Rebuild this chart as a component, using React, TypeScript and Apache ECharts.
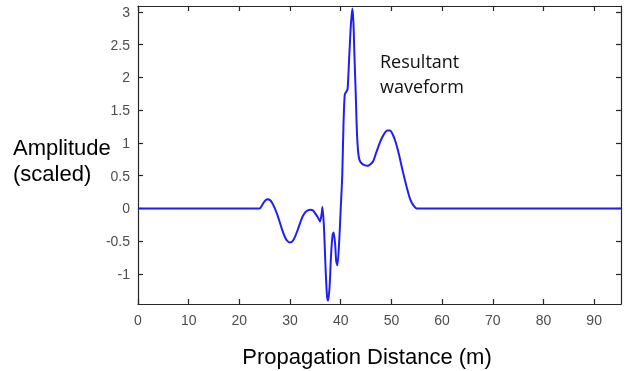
import React, { useEffect, useRef } from "react";
import * as echarts from "echarts";

const distance = [
  0, 24, 24.5, 25, 25.5, 26, 26.5, 27, 27.5, 28, 28.5, 29, 29.5, 30, 30.5, 31, 31.5, 32, 32.5, 33,
  33.5, 34, 34.5, 35, 35.5, 35.9, 36.2, 36.4, 36.7, 37, 37.3, 37.5, 37.8, 38.1, 38.4, 38.6, 38.9, 39.1,
  39.35, 39.7, 40.0, 40.3, 40.55, 40.8, 41.1, 41.35, 41.7, 42.0, 42.3, 42.5, 42.7, 43.0, 43.2, 43.45,
  43.7, 44.1, 44.7, 45.3, 45.8, 46.4, 47.0, 47.8, 48.5, 49.2, 49.7, 50.2, 50.8, 51.5, 52.2, 53.0, 53.7,
  54.3, 55.0, 96,
];
const amplitude = [
  0, 0, 0.05, 0.11, 0.14, 0.13, 0.08, 0.0, -0.1, -0.22, -0.34, -0.44, -0.5, -0.52, -0.5, -0.43,
  -0.33, -0.22, -0.12, -0.06, -0.03, -0.02, -0.03, -0.08, -0.14, -0.2, -0.1, 0.02, -0.3, -0.9, -1.35,
  -1.41, -1.2, -0.7, -0.4, -0.37, -0.55, -0.8, -0.87, -0.5, 0.0, 0.5, 1.3, 1.74, 1.78, 1.82, 2.35,
  2.8, 3.05, 2.85, 2.35, 1.65, 1.15, 0.85, 0.74, 0.69, 0.66, 0.65, 0.67, 0.72, 0.85, 1.02, 1.13, 1.19, 1.19,
  1.14, 1.02, 0.82, 0.58, 0.33, 0.14, 0.05, 0.0, 0,
];
const xTicks = [0, 10, 20, 30, 40, 50, 60, 70, 80, 90];
const yTicks = [-1, -0.5, 0, 0.5, 1, 1.5, 2, 2.5, 3];

const AXIS = "#262626";
const LABEL = "#4d4d4d";

export default function App() {
  const ref = useRef<HTMLDivElement>(null);
  useEffect(() => {
    const chart = echarts.init(ref.current!, undefined, { renderer: "svg" });
    const points = distance.map((d, i) => [d, amplitude[i]]);
    const axisLine = { show: true, onZero: false, lineStyle: { color: AXIS, width: 1.2 } };
    const tickIn = (vals: number[]) => ({
      show: true,
      inside: true,
      length: 5,
      customValues: vals,
      lineStyle: { color: AXIS, width: 1.2 },
    });
    const xMin = 0, xMax = 95.3, yMin = -1.46, yMax = 3.09;
    chart.setOption({
      animation: false,
      grid: { left: 138, right: 4, top: 6, bottom: 67 },
      xAxis: [
        {
          type: "value",
          min: xMin,
          max: xMax,
          axisLine,
          axisTick: tickIn(xTicks),
          splitLine: { show: false },
          axisLabel: {
            customValues: xTicks,
            color: LABEL,
            fontSize: 14,
            fontFamily: "Liberation Sans, Arial, sans-serif",
            margin: 9,
          },
        },
        {
          type: "value",
          position: "top",
          min: xMin,
          max: xMax,
          axisLine,
          axisTick: tickIn(xTicks),
          splitLine: { show: false },
          axisLabel: { show: false },
        },
      ],
      yAxis: [
        {
          type: "value",
          min: yMin,
          max: yMax,
          axisLine,
          axisTick: tickIn(yTicks),
          splitLine: { show: false },
          axisLabel: {
            customValues: yTicks,
            color: LABEL,
            fontSize: 14,
            fontFamily: "Liberation Sans, Arial, sans-serif",
            margin: 8,
          },
        },
        {
          type: "value",
          position: "right",
          min: yMin,
          max: yMax,
          axisLine,
          axisTick: tickIn(yTicks),
          splitLine: { show: false },
          axisLabel: { show: false },
        },
      ],
      series: [
        {
          type: "line",
          data: points,
          showSymbol: false,
          smooth: 0.25,
          lineStyle: { color: "#1f1ff5", width: 2 },
          z: 1,
        },
      ],
      graphic: [
        {
          type: "text",
          x: 13,
          y: 147,
          style: {
            text: "Amplitude",
            font: "22px 'Liberation Sans', Arial, sans-serif",
            fill: "#000",
            textVerticalAlign: "middle",
          },
        },
        {
          type: "text",
          x: 13,
          y: 173,
          style: {
            text: "(scaled)",
            font: "22px 'Liberation Sans', Arial, sans-serif",
            fill: "#000",
            textVerticalAlign: "middle",
          },
        },
        {
          type: "text",
          x: 367,
          y: 356,
          style: {
            text: "Propagation Distance (m)",
            font: "22px 'Liberation Sans', Arial, sans-serif",
            fill: "#000",
            textAlign: "center",
            textVerticalAlign: "middle",
          },
        },
        {
          type: "text",
          x: 380,
          y: 61,
          style: {
            text: "Resultant",
            font: "18px 'Open Sans', sans-serif",
            fill: "#111",
            textVerticalAlign: "middle",
          },
        },
        {
          type: "text",
          x: 380,
          y: 86,
          style: {
            text: "waveform",
            font: "18px 'Open Sans', sans-serif",
            fill: "#111",
            textVerticalAlign: "middle",
          },
        },
      ],
    });
    return () => chart.dispose();
  }, []);
  return <div ref={ref} style={{ width: 625, height: 371, position: "fixed", left: 0, top: 0 }} />;
}
